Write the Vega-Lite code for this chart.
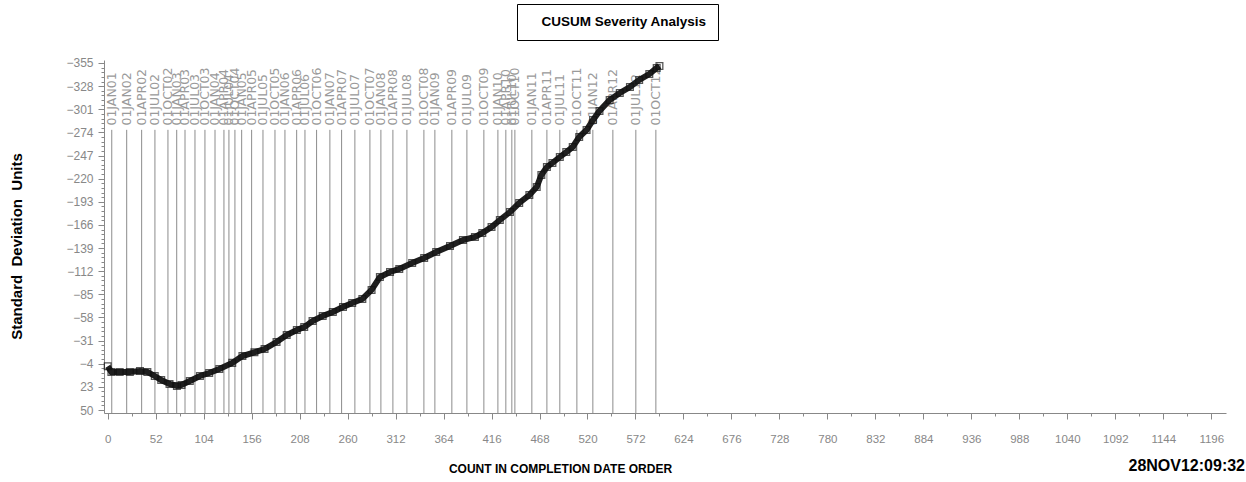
{
  "$schema": "https://vega.github.io/schema/vega-lite/v6.json",
  "width": 1122,
  "height": 353,
  "autosize": "none",
  "padding": {"left": 104, "top": 60, "right": 20, "bottom": 69},
  "background": "white",
  "config": {"view": {"stroke": null}, "axis": {"grid": false}},
  "title": {"text": "28NOV12:09:32", "orient": "bottom", "anchor": "end", "frame": "group", "font": "Liberation Sans", "fontSize": 16, "fontWeight": "bold", "color": "#000", "dx": 19, "offset": -16},
  "datasets": {
    "cusum": [
      {"n": 0, "cusum": -1, "series": "CUSUM Severity Analysis"},
      {"n": 4, "cusum": 5.6, "series": "CUSUM Severity Analysis"},
      {"n": 13, "cusum": 5.6, "series": "CUSUM Severity Analysis"},
      {"n": 24, "cusum": 5.6, "series": "CUSUM Severity Analysis"},
      {"n": 35, "cusum": 4.5, "series": "CUSUM Severity Analysis"},
      {"n": 43, "cusum": 5.6, "series": "CUSUM Severity Analysis"},
      {"n": 51, "cusum": 10.3, "series": "CUSUM Severity Analysis"},
      {"n": 58, "cusum": 15.0, "series": "CUSUM Severity Analysis"},
      {"n": 67, "cusum": 19.6, "series": "CUSUM Severity Analysis"},
      {"n": 75, "cusum": 22.0, "series": "CUSUM Severity Analysis"},
      {"n": 80, "cusum": 20.8, "series": "CUSUM Severity Analysis"},
      {"n": 89, "cusum": 16.1, "series": "CUSUM Severity Analysis"},
      {"n": 100, "cusum": 10.3, "series": "CUSUM Severity Analysis"},
      {"n": 110, "cusum": 6.8, "series": "CUSUM Severity Analysis"},
      {"n": 121, "cusum": 2.1, "series": "CUSUM Severity Analysis"},
      {"n": 135, "cusum": -5.0, "series": "CUSUM Severity Analysis"},
      {"n": 146, "cusum": -13.0, "series": "CUSUM Severity Analysis"},
      {"n": 159, "cusum": -17.3, "series": "CUSUM Severity Analysis"},
      {"n": 170, "cusum": -21.2, "series": "CUSUM Severity Analysis"},
      {"n": 183, "cusum": -29.3, "series": "CUSUM Severity Analysis"},
      {"n": 194, "cusum": -37.5, "series": "CUSUM Severity Analysis"},
      {"n": 205, "cusum": -43.4, "series": "CUSUM Severity Analysis"},
      {"n": 213, "cusum": -46.8, "series": "CUSUM Severity Analysis"},
      {"n": 222, "cusum": -53.9, "series": "CUSUM Severity Analysis"},
      {"n": 233, "cusum": -59.7, "series": "CUSUM Severity Analysis"},
      {"n": 244, "cusum": -64.4, "series": "CUSUM Severity Analysis"},
      {"n": 255, "cusum": -70.2, "series": "CUSUM Severity Analysis"},
      {"n": 265, "cusum": -74.9, "series": "CUSUM Severity Analysis"},
      {"n": 276, "cusum": -79.6, "series": "CUSUM Severity Analysis"},
      {"n": 286, "cusum": -90.1, "series": "CUSUM Severity Analysis"},
      {"n": 295, "cusum": -105.2, "series": "CUSUM Severity Analysis"},
      {"n": 306, "cusum": -111.1, "series": "CUSUM Severity Analysis"},
      {"n": 316, "cusum": -114.6, "series": "CUSUM Severity Analysis"},
      {"n": 330, "cusum": -121.6, "series": "CUSUM Severity Analysis"},
      {"n": 343, "cusum": -127.4, "series": "CUSUM Severity Analysis"},
      {"n": 356, "cusum": -134.4, "series": "CUSUM Severity Analysis"},
      {"n": 371, "cusum": -141.4, "series": "CUSUM Severity Analysis"},
      {"n": 385, "cusum": -148.4, "series": "CUSUM Severity Analysis"},
      {"n": 398, "cusum": -151.9, "series": "CUSUM Severity Analysis"},
      {"n": 406, "cusum": -156.6, "series": "CUSUM Severity Analysis"},
      {"n": 416, "cusum": -163.6, "series": "CUSUM Severity Analysis"},
      {"n": 425, "cusum": -171.8, "series": "CUSUM Severity Analysis"},
      {"n": 436, "cusum": -181.1, "series": "CUSUM Severity Analysis"},
      {"n": 446, "cusum": -191.6, "series": "CUSUM Severity Analysis"},
      {"n": 457, "cusum": -200.9, "series": "CUSUM Severity Analysis"},
      {"n": 465, "cusum": -210.3, "series": "CUSUM Severity Analysis"},
      {"n": 470, "cusum": -224.3, "series": "CUSUM Severity Analysis"},
      {"n": 476, "cusum": -233.6, "series": "CUSUM Severity Analysis"},
      {"n": 482, "cusum": -238.3, "series": "CUSUM Severity Analysis"},
      {"n": 490, "cusum": -245.3, "series": "CUSUM Severity Analysis"},
      {"n": 497, "cusum": -251.1, "series": "CUSUM Severity Analysis"},
      {"n": 504, "cusum": -257.0, "series": "CUSUM Severity Analysis"},
      {"n": 511, "cusum": -268.6, "series": "CUSUM Severity Analysis"},
      {"n": 519, "cusum": -276.8, "series": "CUSUM Severity Analysis"},
      {"n": 526, "cusum": -288.5, "series": "CUSUM Severity Analysis"},
      {"n": 533, "cusum": -299.0, "series": "CUSUM Severity Analysis"},
      {"n": 544, "cusum": -311.8, "series": "CUSUM Severity Analysis"},
      {"n": 555, "cusum": -320.0, "series": "CUSUM Severity Analysis"},
      {"n": 566, "cusum": -327.0, "series": "CUSUM Severity Analysis"},
      {"n": 576, "cusum": -335.2, "series": "CUSUM Severity Analysis"},
      {"n": 587, "cusum": -342.2, "series": "CUSUM Severity Analysis"},
      {"n": 595, "cusum": -349.2, "series": "CUSUM Severity Analysis"},
      {"n": 598, "cusum": -351.5, "series": "CUSUM Severity Analysis"}
    ],
    "dates": [
      {"n": 4.4, "date": "01JAN01"},
      {"n": 20.6, "date": "01JAN02"},
      {"n": 36.8, "date": "01APR02"},
      {"n": 51.2, "date": "01JUL02"},
      {"n": 65.3, "date": "01OCT02"},
      {"n": 74.8, "date": "01JAN03"},
      {"n": 83.8, "date": "01APR03"},
      {"n": 94.6, "date": "01JUL03"},
      {"n": 105.4, "date": "01OCT03"},
      {"n": 116.3, "date": "01JAN04"},
      {"n": 126.0, "date": "01APR04"},
      {"n": 131.4, "date": "01JUL04"},
      {"n": 137.9, "date": "01OCT04"},
      {"n": 145.2, "date": "01JAN05"},
      {"n": 156.0, "date": "01APR05"},
      {"n": 168.3, "date": "01JUL05"},
      {"n": 181.3, "date": "01OCT05"},
      {"n": 192.1, "date": "01JAN06"},
      {"n": 204.8, "date": "01APR06"},
      {"n": 213.8, "date": "01JUL06"},
      {"n": 226.4, "date": "01OCT06"},
      {"n": 240.8, "date": "01JAN07"},
      {"n": 253.5, "date": "01APR07"},
      {"n": 267.9, "date": "01JUL07"},
      {"n": 284.2, "date": "01OCT07"},
      {"n": 296.1, "date": "01JAN08"},
      {"n": 309.1, "date": "01APR08"},
      {"n": 324.3, "date": "01JUL08"},
      {"n": 342.7, "date": "01OCT08"},
      {"n": 354.6, "date": "01JAN09"},
      {"n": 373.0, "date": "01APR09"},
      {"n": 389.3, "date": "01JUL09"},
      {"n": 407.7, "date": "01OCT09"},
      {"n": 422.9, "date": "01JAN10"},
      {"n": 431.5, "date": "01APR10"},
      {"n": 438.0, "date": "01JUL10"},
      {"n": 441.3, "date": "01OCT10"},
      {"n": 459.7, "date": "01JAN11"},
      {"n": 476.0, "date": "01APR11"},
      {"n": 490.0, "date": "01JUL11"},
      {"n": 508.5, "date": "01OCT11"},
      {"n": 525.8, "date": "01JAN12"},
      {"n": 547.5, "date": "01APR12"},
      {"n": 572.4, "date": "01JUL12"},
      {"n": 594.1, "date": "01OCT12"}
    ]
  },
  "encoding": {
    "x": {
      "field": "n", "type": "quantitative", "title": "COUNT IN COMPLETION DATE ORDER",
      "scale": {"domain": [-4, 1212], "nice": false, "zero": false},
      "axis": {
        "values": [0,26,52,78,104,130,156,182,208,234,260,286,312,338,364,390,416,442,468,494,520,546,572,598,624,650,676,702,728,754,780,806,832,858,884,910,936,962,988,1014,1040,1066,1092,1118,1144,1170,1196],
        "tickCount": 1000,
        "tickSize": {"condition": {"test": "datum.value % 52 !== 0", "value": 3}, "value": 6},
        "labelExpr": "datum.value % 52 === 0 ? datum.label : ''",
        "format": "d",
        "labelOverlap": false, "labelFlush": false,
        "labelFont": "Liberation Sans", "labelFontSize": 11.5, "labelColor": "#888", "labelPadding": 14,
        "domainColor": "#888", "tickColor": "#888",
        "titleFont": "Liberation Sans", "titleFontSize": 12, "titleFontWeight": "bold", "titleColor": "#000",
        "titleX": 456, "titleY": 59, "titleAlign": "center", "titleBaseline": "alphabetic"
      }
    }
  },
  "layer": [
    {
      "data": {"name": "dates"},
      "mark": {"type": "rule", "color": "#8c8c8c", "strokeWidth": 1},
      "encoding": {
        "y": {"datum": -277, "type": "quantitative", "title": "Standard\u00a0 Deviation\u00a0 Units", "scale": {"domain": [-358.5, 53.5], "reverse": true, "nice": false, "zero": false}},
        "y2": {"datum": 53.5}
      }
    },
    {
      "data": {"name": "dates"},
      "mark": {"type": "text", "angle": 270, "align": "left", "baseline": "middle", "font": "DejaVu Sans", "fontSize": 12.5, "color": "#9a9a9a"},
      "encoding": {
        "y": {"datum": -282, "type": "quantitative", "title": "Standard\u00a0 Deviation\u00a0 Units", "scale": {"domain": [-358.5, 53.5], "reverse": true, "nice": false, "zero": false}},
        "text": {"field": "date"}
      }
    },
    {
      "data": {"name": "cusum"},
      "mark": {"type": "line", "strokeWidth": 6},
      "encoding": {
        "y": {
          "field": "cusum", "type": "quantitative", "title": "Standard\u00a0 Deviation\u00a0 Units",
          "scale": {"domain": [-358.5, 53.5], "reverse": true, "nice": false, "zero": false},
          "axis": {
            "values": [-355,-349.6,-344.2,-338.8,-333.4,-328,-322.6,-317.2,-311.8,-306.4,-301,-295.6,-290.2,-284.8,-279.4,-274,-268.6,-263.2,-257.8,-252.4,-247,-241.6,-236.2,-230.8,-225.4,-220,-214.6,-209.2,-203.8,-198.4,-193,-187.6,-182.2,-176.8,-171.4,-166,-160.6,-155.2,-149.8,-144.4,-139,-133.6,-128.2,-122.8,-117.4,-112,-106.6,-101.2,-95.8,-90.4,-85,-79.6,-74.2,-68.8,-63.4,-58,-52.6,-47.2,-41.8,-36.4,-31,-25.6,-20.2,-14.8,-9.4,-4,1.4,6.8,12.2,17.6,23,28.4,33.8,39.2,44.6,50],
            "tickCount": 1000,
            "format": "d",
            "tickSize": {"condition": {"test": "round((datum.value + 355) / 5.4) % 5 !== 0", "value": 3}, "value": 6},
            "labelExpr": "round((datum.value + 355) / 5.4) % 5 !== 0 ? '' : datum.label",
            "labelOverlap": false, "labelFlush": false,
            "labelFont": "Liberation Sans", "labelFontSize": 12, "labelColor": "#888", "labelPadding": 5,
            "domainColor": "#888", "tickColor": "#888",
            "titleFont": "Liberation Sans", "titleFontSize": 15, "titleFontWeight": "bold", "titleColor": "#000",
            "titleX": -88, "titleY": 186, "titleAngle": 270, "titleAlign": "center", "titleBaseline": "middle"
          }
        },
        "color": {
          "field": "series", "type": "nominal",
          "scale": {"range": ["#1e1e1e"]},
          "legend": {
            "orient": "none", "legendX": 413, "legendY": -56, "title": null,
            "strokeColor": "#000", "padding": 11,
            "symbolSize": 0, "symbolOpacity": 0, "symbolStrokeWidth": 0, "labelOffset": 0,
            "labelFont": "Liberation Sans", "labelFontSize": 13.5, "labelFontWeight": "bold", "labelColor": "#000", "labelLimit": 0,
            "labelExpr": "'\u00a0\u00a0\u00a0\u00a0\u00a0\u00a0\u00a0\u00a0\u00a0\u00a0' + datum.label + '\u00a0\u00a0\u00a0\u00a0\u00a0\u00a0\u00a0\u00a0\u00a0\u00a0'"
          }
        }
      }
    },
    {
      "data": {"name": "cusum"},
      "mark": {"type": "point", "shape": "square", "filled": false, "size": 45, "color": "#111", "strokeWidth": 1.3},
      "encoding": {
        "y": {"field": "cusum", "type": "quantitative", "title": "Standard\u00a0 Deviation\u00a0 Units", "scale": {"domain": [-358.5, 53.5], "reverse": true, "nice": false, "zero": false}}
      }
    }
  ]
}
